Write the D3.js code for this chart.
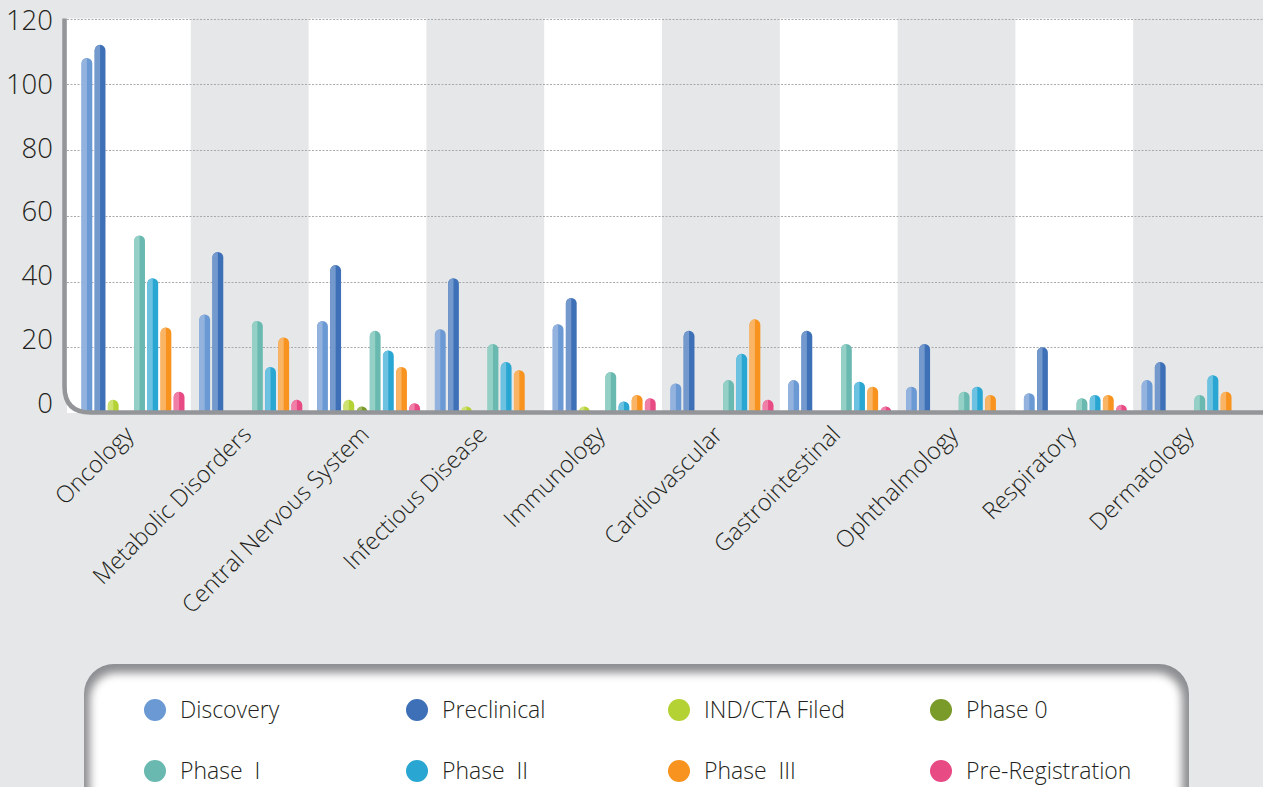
<!DOCTYPE html>
<html>
<head>
<meta charset="utf-8">
<script src="https://cdn.jsdelivr.net/npm/d3@7"></script>
<style>
  body { margin: 0; background: #e6e7e8; }
  svg { display: block; font-family: "Open Sans", "Noto Sans", sans-serif; }
  .legend text { white-space: pre; }
</style>
</head>
<body>
<svg id="chart" width="1263" height="787"></svg>
<script>
const categories = ['Oncology', 'Metabolic Disorders', 'Central Nervous System', 'Infectious Disease',
  'Immunology', 'Cardiovascular', 'Gastrointestinal', 'Ophthalmology', 'Respiratory', 'Dermatology'];

const seriesNames = ['Discovery', 'Preclinical', 'IND/CTA Filed', 'Phase 0',
  'Phase  I', 'Phase  II', 'Phase  III', 'Pre-Registration'];

const discovery = [108, 30, 28, 25.5, 27, 9, 10, 8, 6, 10];
const preclinical = [112, 49, 45, 41, 35, 25, 25, 21, 20, 15.5];
const indCta = [4, 0, 4, 2, 2, 0, 0, 0, 0, 0];
const phase0 = [0, 0, 2, 0, 0, 0, 0, 0, 0, 0];
const phase1 = [54, 28, 25, 21, 12.5, 10, 21, 6.5, 4.5, 5.5];
const phase2 = [41, 14, 19, 15.5, 3.5, 18, 9.5, 8, 5.5, 11.5];
const phase3 = [26, 23, 14, 13, 5.5, 28.5, 8, 5.5, 5.5, 6.5];
const preReg = [6.5, 4, 3, 0, 4.5, 4, 2, 0, 2.5, 0];

const yTicks = [0, 20, 40, 60, 80, 100, 120];

// colours: [light half, dark half]
const colors = [
  ['#93b3de', '#6b99d3'],
  ['#7399cd', '#3e70b7'],
  ['#cde272', '#b4d234'],
  ['#a2b860', '#7a9a2a'],
  ['#95d0c7', '#69b9b0'],
  ['#6cc2e0', '#29a6d2'],
  ['#f9b466', '#f7931e'],
  ['#f07fa8', '#e84a84']
];

const seriesValues = [discovery, preclinical, indCta, phase0, phase1, phase2, phase3, preReg];

const svg = d3.select('#chart');

const plot = { left: 67, right: 1263, top: 18.5, bottom: 413 };

const x = d3.scaleBand()
  .domain(categories)
  .range([73, 73 + 117.8 * categories.length]);

const xInner = d3.scaleBand()
  .domain(d3.range(seriesNames.length))
  .range([8.5, 111.5])
  .paddingInner(0.18);

const y = d3.scaleLinear().domain([0, 120]).range([plot.bottom, plot.top]);
// tick labels sit on their own slightly compressed spacing in the original
const yLabel = d3.scaleLinear().domain([0, 120]).range([403, 20]);

// background bands
svg.append('g')
  .selectAll('rect')
  .data(categories.filter((d, i) => i % 2 === 0))
  .join('rect')
  .attr('x', (d, i) => i === 0 ? plot.left : x(d))
  .attr('y', plot.top)
  .attr('width', (d, i) => i === 0 ? x(d) + x.bandwidth() - plot.left : x.bandwidth())
  .attr('height', plot.bottom - plot.top)
  .attr('fill', '#ffffff');

// grid lines
svg.append('g')
  .selectAll('line')
  .data(yTicks.filter(d => d > 0))
  .join('line')
  .attr('x1', plot.left)
  .attr('x2', plot.right)
  .attr('y1', d => Math.round(y(d)) + 0.5)
  .attr('y2', d => Math.round(y(d)) + 0.5)
  .attr('stroke', '#a8aaad')
  .attr('stroke-width', 1)
  .attr('stroke-dasharray', '2,1.5');

// bars
const barData = [];
seriesValues.forEach((vals, s) => {
  vals.forEach((v, c) => {
    if (v > 0) barData.push({ s, c, v });
  });
});

const w = xInner.bandwidth();
const r = w / 2;
const fullPath = d => {
  const x0 = x(categories[d.c]) + xInner(d.s);
  const yt = Math.min(y(d.v), plot.bottom - r - 1);
  return `M${x0},${plot.bottom}L${x0},${yt + r}A${r},${r} 0 0 1 ${x0 + w},${yt + r}L${x0 + w},${plot.bottom}Z`;
};
const halfPath = d => {
  const x0 = x(categories[d.c]) + xInner(d.s);
  const yt = Math.min(y(d.v), plot.bottom - r - 1);
  return `M${x0},${plot.bottom}L${x0},${yt + r}A${r},${r} 0 0 1 ${x0 + r},${yt}L${x0 + r},${plot.bottom}Z`;
};

const bars = svg.append('g').selectAll('g').data(barData).join('g');
bars.append('path')
  .attr('d', fullPath)
  .attr('fill', d => colors[d.s][1]);
bars.append('path')
  .attr('d', halfPath)
  .attr('fill', d => colors[d.s][0]);

// axis frame with rounded corner
const cr = 26;
svg.append('path')
  .attr('d', `M64.5,${plot.top}L64.5,${412.5 - cr}Q64.5,412.5 ${64.5 + cr},412.5L${plot.right},412.5`)
  .attr('fill', 'none')
  .attr('stroke', '#939598')
  .attr('stroke-width', 4.5);

// y tick labels
svg.append('g')
  .selectAll('text')
  .data(yTicks)
  .join('text')
  .attr('x', 53)
  .attr('y', d => yLabel(d))
  .attr('dy', '0.36em')
  .attr('text-anchor', 'end')
  .attr('font-size', 27.5)
  .attr('font-weight', 300)
  .attr('fill', '#231f20')
  .text(d => d);

// category labels
svg.append('g')
  .selectAll('text')
  .data(categories)
  .join('text')
  .attr('transform', d => `translate(${x(d) + x.bandwidth() / 2 + 3},${436}) rotate(-45)`)
  .attr('text-anchor', 'end')
  .attr('font-size', 23.5)
  .attr('font-weight', 300)
  .attr('fill', '#231f20')
  .text(d => d);

// legend box
const defs = svg.append('defs');
const blur = defs.append('filter').attr('id', 'soft').attr('x', '-10%').attr('y', '-10%').attr('width', '120%').attr('height', '120%');
blur.append('feGaussianBlur').attr('stdDeviation', 4);
defs.append('clipPath').attr('id', 'boxClip')
  .append('rect')
  .attr('x', 84).attr('y', 664).attr('width', 1105).attr('height', 200).attr('rx', 30);

const box = svg.append('g').attr('clip-path', 'url(#boxClip)');
box.append('rect')
  .attr('x', 84).attr('y', 664).attr('width', 1105).attr('height', 200)
  .attr('fill', '#8d8e91');
box.append('rect')
  .attr('x', 90).attr('y', 673).attr('width', 1092).attr('height', 200).attr('rx', 26)
  .attr('fill', '#ffffff')
  .attr('filter', 'url(#soft)');

const legend = svg.append('g')
  .attr('class', 'legend')
  .selectAll('g')
  .data(seriesNames)
  .join('g')
  .attr('transform', (d, i) => `translate(${155 + (i % 4) * 262},${i < 4 ? 710 : 771})`);
legend.append('circle')
  .attr('r', 11)
  .attr('fill', (d, i) => colors[i][1]);
legend.append('text')
  .attr('x', 25)
  .attr('dy', '0.35em')
  .attr('font-size', 23)
  .attr('font-weight', 300)
  .attr('fill', '#231f20')
  .text(d => d);
</script>
</body>
</html>
